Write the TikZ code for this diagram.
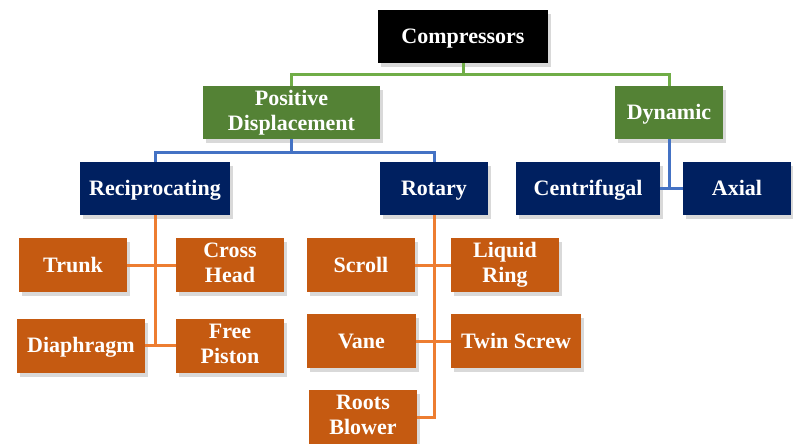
\documentclass[tikz,border=0pt]{standalone}
\usepackage{fontspec}
\setmainfont{Liberation Serif}
\usepackage{tikz}
\usetikzlibrary{shadows}

\definecolor{grpgreen}{HTML}{548235}
\definecolor{subblue}{HTML}{002060}
\definecolor{leaforange}{HTML}{C55A11}
\definecolor{linegreen}{HTML}{70AD47}
\definecolor{lineblue}{HTML}{4472C4}
\definecolor{lineorange}{HTML}{ED7D31}
\newcommand{\boxstrut}{\rule[-4pt]{0pt}{22pt}}

\begin{document}
\begin{tikzpicture}[x=1pt, y=-1pt,
    box/.style={rectangle, text=white, font=\fontsize{22}{25}\selectfont\bfseries, align=center, inner sep=0pt, minimum height=53pt, execute at begin node=\boxstrut, execute at end node=\boxstrut, drop shadow={shadow xshift=3pt, shadow yshift=-4pt, opacity=0.3}},
    topbox/.style={box, fill=black},
    grpbox/.style={box, fill=grpgreen},
    subbox/.style={box, fill=subblue},
    leafbox/.style={box, fill=leaforange, minimum height=54pt},
    gline/.style={draw=linegreen, line width=3pt},
    bline/.style={draw=lineblue, line width=3pt},
    oline/.style={draw=lineorange, line width=3pt}]
    \useasboundingbox (0,0) rectangle (793,444);
    % Place nodes
    \node [topbox, minimum width=170pt] (C) at (463,36.5) {Compressors};
    \node [grpbox, minimum width=177pt] (PD) at (291.5,112.5) {Positive\\Displacement};
    \node [grpbox, minimum width=108pt] (DY) at (669,112.5) {Dynamic};
    \node [subbox, minimum width=150pt] (RE) at (155,188.5) {Reciprocating};
    \node [subbox, minimum width=108pt] (RO) at (434,188.5) {Rotary};
    \node [subbox, minimum width=144pt] (CE) at (588,188.5) {Centrifugal};
    \node [subbox, minimum width=108pt] (AX) at (737,188.5) {Axial};
    \node [leafbox, minimum width=108pt] (TR) at (73,265) {Trunk};
    \node [leafbox, minimum width=108pt] (CH) at (230,265) {Cross\\Head};
    \node [leafbox, minimum width=128pt] (DI) at (81,345.5) {Diaphragm};
    \node [leafbox, minimum width=108pt] (FP) at (230,345.5) {Free\\Piston};
    \node [leafbox, minimum width=108pt] (SC) at (361,265) {Scroll};
    \node [leafbox, minimum width=108pt] (LR) at (505,265) {Liquid\\Ring};
    \node [leafbox, minimum width=109pt] (VA) at (361.5,341) {Vane};
    \node [leafbox, minimum width=130pt] (TS) at (516,341) {Twin Screw};
    \node [leafbox, minimum width=108pt] (RB) at (363,417) {Roots\\Blower};
    % Level one
    \coordinate (CC) at (463,75);
    \path [gline] (C.south) -- (CC);
    \path [gline] (PD.north) |- (CC) -| (DY.north);
    % Level two
    \coordinate (PP) at (291.5,152);
    \path [bline] (PD.south) -- (PP);
    \path [bline] (RE.north) |- (PP) -| (RO.north);
    \path [bline] (DY.south) |- (CE.east);
    \path [bline] (CE.east) -- (AX.west);
    % Level three
    \coordinate (RR) at (155,345.5);
    \path [oline] (RE.south) -- (RR);
    \path [oline] (TR.east) -- (CH.west);
    \path [oline] (DI.east) -- (FP.west);
    \path [oline] (RO.south) |- (RB.east);
    \path [oline] (SC.east) -- (LR.west);
    \path [oline] (VA.east) -- (TS.west);
\end{tikzpicture}
\end{document}
